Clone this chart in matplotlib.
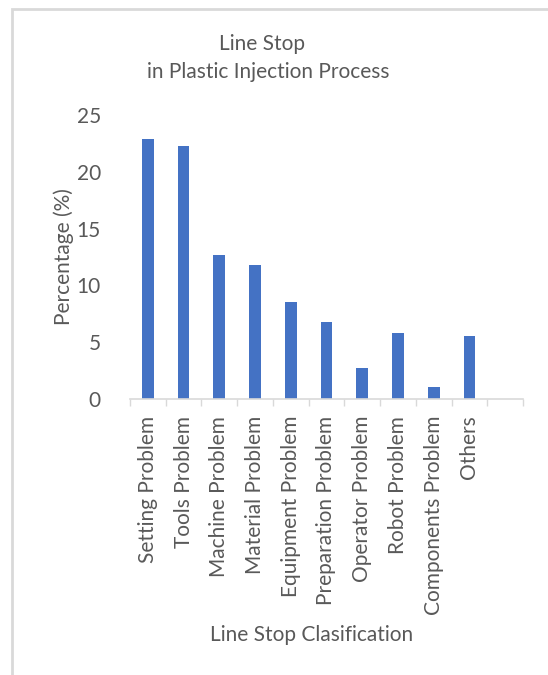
import matplotlib.pyplot as plt
import numpy as np
from matplotlib.patches import Rectangle

plt.rcParams['font.family'] = ['Lato', 'DejaVu Sans']

categories = ['Setting Problem', 'Tools Problem', 'Machine Problem', 'Material Problem',
              'Equipment Problem', 'Preparation Problem', 'Operator Problem',
              'Robot Problem', 'Components Problem', 'Others', '']
percentages = [22.9, 22.3, 12.65, 11.8, 8.5, 6.8, 2.7, 5.8, 1.1, 5.55, np.nan]

text_color = '#595959'
line_color = '#D9D9D9'

fig = plt.figure(figsize=(5.48, 6.75), dpi=100)
ax = fig.add_axes([130 / 548, 1 - 399 / 675, 393 / 548, 284 / 675])

x = np.arange(len(categories))
ax.bar(x, percentages, width=0.33, color='#4472C4')

ax.set_xlim(-0.5, len(categories) - 0.5)
ax.set_ylim(0, 25)
ax.set_yticks([0, 5, 10, 15, 20, 25])
ax.set_xticks(x)
ax.set_xticklabels(categories, rotation=90)
ax.set_xticks(np.arange(-0.5, len(categories)), minor=True)

ax.tick_params(axis='x', which='major', length=0, pad=12, labelsize=15, labelcolor=text_color)
ax.tick_params(axis='x', which='minor', length=5, width=1, color=line_color)
ax.tick_params(axis='y', length=0, pad=21, labelsize=15, labelcolor=text_color)

for side in ['top', 'right', 'left']:
    ax.spines[side].set_visible(False)
ax.spines['bottom'].set_color(line_color)
ax.spines['bottom'].set_linewidth(1.2)

ax.set_ylabel('Percentage (%)', fontsize=15, color=text_color, labelpad=2)

fig.text(262 / 548, 1 - 44 / 675, 'Line Stop', ha='center', va='center',
         fontsize=15, color=text_color)
fig.text(268 / 548, 1 - 72 / 675, 'in Plastic Injection Process', ha='center', va='center',
         fontsize=15, color=text_color)
fig.text(312 / 548, 1 - 635 / 675, 'Line Stop Clasification', ha='center', va='center',
         fontsize=15, color=text_color)

# frame around the chart area
fig.patches.append(Rectangle((12 / 548, -0.1), 1.0, 1.1 - 9 / 675, transform=fig.transFigure,
                             fill=False, edgecolor=line_color, linewidth=2))

fig.savefig('out.png', dpi=100)
